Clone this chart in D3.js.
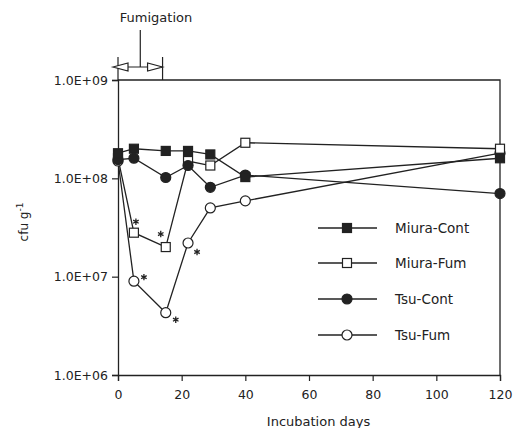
<!DOCTYPE html>
<html>
<head>
<meta charset="utf-8">
<script src="https://cdn.jsdelivr.net/npm/d3@7"></script>
<style>
  body { margin: 0; background: #fff; }
  text { font-family: "DejaVu Sans", sans-serif; fill: #222; }
</style>
</head>
<body>
<svg></svg>
<script>
const width = 513
const height = 428
const days = [0, 5, 15, 22, 29, 40, 120]
const seriesNames = ['Miura-Cont', 'Miura-Fum', 'Tsu-Cont', 'Tsu-Fum']
const miuraCont = [1.8e8, 2.0e8, 1.9e8, 1.9e8, 1.75e8, 1.03e8, 1.6e8]
const miuraFum = [1.6e8, 2.8e7, 2.0e7, 1.5e8, 1.35e8, 2.3e8, 2.0e8]
const tsuCont = [1.55e8, 1.6e8, 1.02e8, 1.35e8, 8.1e7, 1.08e8, 7.0e7]
const tsuFum = [1.5e8, 9.0e6, 4.3e6, 2.2e7, 5.0e7, 5.9e7, 1.8e8]
const yTicks = [1e6, 1e7, 1e8, 1e9]
const xTicks = [0, 20, 40, 60, 80, 100, 120]
// significant differences (series index, day index)
const stars = [[1, 1], [1, 2], [3, 1], [3, 2], [3, 3]]
const starOffsets = [[2, -11], [-5, -13], [10, -4], [10, 7], [9, 9]]
const fumigation = [0, 14]

const series = [miuraCont, miuraFum, tsuCont, tsuFum]
const markers = [
  { shape: 'square', fill: '#222' },
  { shape: 'square', fill: '#fff' },
  { shape: 'circle', fill: '#222' },
  { shape: 'circle', fill: '#fff' }
]
const ink = '#222'

const x = d3.scaleLinear().domain([0, 120]).range([118, 500])
const y = d3.scaleLog().domain([1e6, 1e9]).range([375, 80])

const svg = d3.select('svg').attr('width', width).attr('height', height)

// frame top & right
svg.append('path')
  .attr('d', `M${x(0)},${y(1e9)}H${x(120)}V${y(1e6)}`)
  .attr('fill', 'none').attr('stroke', ink).attr('stroke-width', 1.3)

const xAxis = svg.append('g')
  .attr('transform', `translate(0,${y(1e6)})`)
  .call(d3.axisBottom(x).tickValues(xTicks).tickSize(6).tickPadding(9))
const yAxis = svg.append('g')
  .attr('transform', `translate(${x(0)},0)`)
  .call(d3.axisLeft(y).tickValues(yTicks).tickSize(6).tickPadding(4)
    .tickFormat(d => '1.0E+0' + Math.round(Math.log10(d))))
;[xAxis, yAxis].forEach(a => {
  a.select('.domain').attr('stroke', ink).attr('stroke-width', 1.3)
  a.selectAll('line').attr('stroke', ink).attr('stroke-width', 1.2)
  a.selectAll('text').style('font-family', '"DejaVu Sans", sans-serif')
    .style('font-size', '12.5px').attr('fill', ink)
})

// fumigation bracket
const fx0 = x(fumigation[0]), fx1 = x(fumigation[1]), fy = 67
const fmid = (fx0 + fx1) / 2
const bracket = svg.append('g').attr('stroke', ink).attr('stroke-width', 1.2).attr('fill', 'none')
bracket.append('path').attr('d', `M${fx0},57V${y(1e9)}M${fx1},57V${y(1e9)}M${fx0},${fy}H${fx1}M${fmid},30V${fy}`)
bracket.append('path').attr('fill', '#fff')
  .attr('d', `M${fx0 - 5},${fy}L${fx0 + 10},${fy - 4}L${fx0 + 10},${fy + 4}Z`)
bracket.append('path').attr('fill', '#fff')
  .attr('d', `M${fx1},${fy}L${fx1 - 15},${fy - 4}L${fx1 - 15},${fy + 4}Z`)
svg.append('text').attr('x', 156).attr('y', 22).attr('text-anchor', 'middle')
  .style('font-size', '13px').text('Fumigation')

// lines
const line = d3.line().x((d, i) => x(days[i])).y(d => y(d))
svg.append('g').selectAll('path')
  .data(series)
  .join('path')
  .attr('d', line)
  .attr('fill', 'none').attr('stroke', ink).attr('stroke-width', 1.3)

function drawMarker(g, m, cx, cy) {
  if (m.shape === 'square') {
    g.append('rect').attr('x', cx - 4.5).attr('y', cy - 4.5).attr('width', 9).attr('height', 9)
      .attr('fill', m.fill).attr('stroke', ink).attr('stroke-width', 1.2)
  } else {
    g.append('circle').attr('cx', cx).attr('cy', cy).attr('r', 5)
      .attr('fill', m.fill).attr('stroke', ink).attr('stroke-width', 1.2)
  }
}

const markerOrder = [3, 1, 2, 0]
markerOrder.forEach(si => {
  const g = svg.append('g')
  series[si].forEach((v, i) => drawMarker(g, markers[si], x(days[i]), y(v)))
})

// asterisks, drawn as three crossing strokes
const r = 3.2
const asterisk = [90, 30, -30].map(a => {
  const dx = r * Math.cos(a * Math.PI / 180), dy = r * Math.sin(a * Math.PI / 180)
  return `M${-dx},${-dy}L${dx},${dy}`
}).join('')
stars.forEach(([si, di], k) => {
  svg.append('path')
    .attr('transform', `translate(${x(days[di]) + starOffsets[k][0]},${y(series[si][di]) + starOffsets[k][1]})`)
    .attr('d', asterisk)
    .attr('stroke', ink).attr('stroke-width', 1.3)
})

// legend
const legY = [228, 263, 299, 335]
seriesNames.forEach((name, i) => {
  const g = svg.append('g')
  g.append('line').attr('x1', 318).attr('x2', 377).attr('y1', legY[i]).attr('y2', legY[i])
    .attr('stroke', ink).attr('stroke-width', 1.3)
  drawMarker(g, markers[i], 347, legY[i])
  g.append('text').attr('x', 395).attr('y', legY[i] + 5)
    .style('font-size', '13.5px').text(name)
})

// axis titles
svg.append('text').attr('x', x(63)).attr('y', 426).attr('text-anchor', 'middle')
  .style('font-size', '13px').text('Incubation days')
const yt = svg.append('text').attr('transform', 'translate(28,222) rotate(-90)')
  .attr('text-anchor', 'middle').style('font-size', '12px')
yt.append('tspan').text('cfu g')
yt.append('tspan').attr('dy', -5).style('font-size', '9px').text('-1')
</script>
</body>
</html>
